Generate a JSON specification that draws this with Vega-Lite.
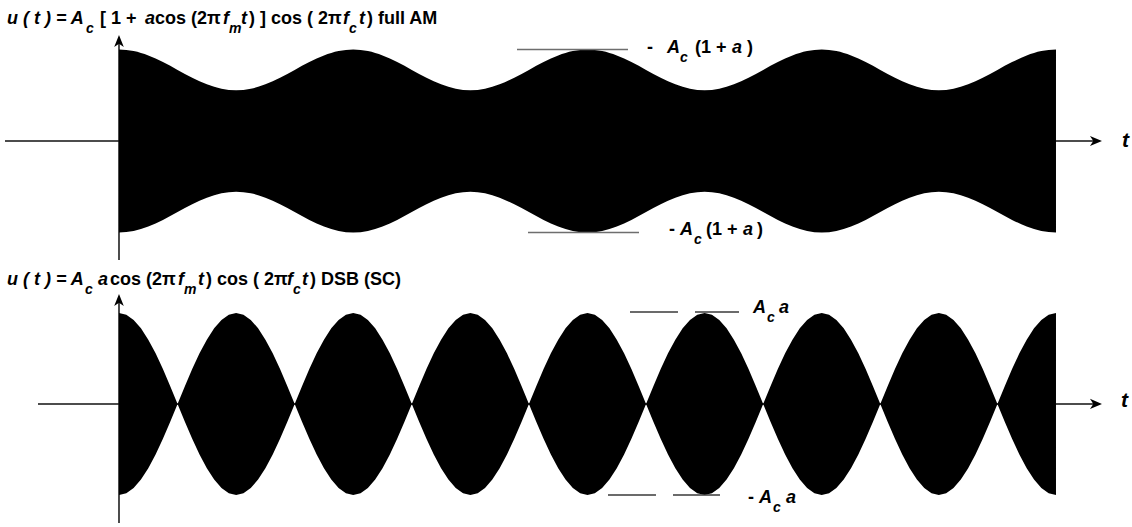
{
  "$schema": "https://vega.github.io/schema/vega-lite/v6.json",
  "padding": 0,
  "spacing": 0,
  "bounds": "flush",
  "config": {"view": {"stroke": null}},
  "datasets": {
    "amEnvelope": [
      {"t":0,"v":1.3,"v2":-1.3},{"t":0.0625,"v":1.278,"v2":-1.278},{"t":0.125,"v":1.215,"v2":-1.215},{"t":0.1875,"v":1.121,"v2":-1.121},
      {"t":0.25,"v":1.01,"v2":-1.01},{"t":0.3125,"v":0.899,"v2":-0.899},{"t":0.375,"v":0.805,"v2":-0.805},{"t":0.4375,"v":0.742,"v2":-0.742},
      {"t":0.5,"v":0.72,"v2":-0.72},{"t":0.5625,"v":0.742,"v2":-0.742},{"t":0.625,"v":0.805,"v2":-0.805},{"t":0.6875,"v":0.899,"v2":-0.899},
      {"t":0.75,"v":1.01,"v2":-1.01},{"t":0.8125,"v":1.121,"v2":-1.121},{"t":0.875,"v":1.215,"v2":-1.215},{"t":0.9375,"v":1.278,"v2":-1.278},
      {"t":1,"v":1.3,"v2":-1.3},{"t":1.0625,"v":1.278,"v2":-1.278},{"t":1.125,"v":1.215,"v2":-1.215},{"t":1.1875,"v":1.121,"v2":-1.121},
      {"t":1.25,"v":1.01,"v2":-1.01},{"t":1.3125,"v":0.899,"v2":-0.899},{"t":1.375,"v":0.805,"v2":-0.805},{"t":1.4375,"v":0.742,"v2":-0.742},
      {"t":1.5,"v":0.72,"v2":-0.72},{"t":1.5625,"v":0.742,"v2":-0.742},{"t":1.625,"v":0.805,"v2":-0.805},{"t":1.6875,"v":0.899,"v2":-0.899},
      {"t":1.75,"v":1.01,"v2":-1.01},{"t":1.8125,"v":1.121,"v2":-1.121},{"t":1.875,"v":1.215,"v2":-1.215},{"t":1.9375,"v":1.278,"v2":-1.278},
      {"t":2,"v":1.3,"v2":-1.3},{"t":2.0625,"v":1.278,"v2":-1.278},{"t":2.125,"v":1.215,"v2":-1.215},{"t":2.1875,"v":1.121,"v2":-1.121},
      {"t":2.25,"v":1.01,"v2":-1.01},{"t":2.3125,"v":0.899,"v2":-0.899},{"t":2.375,"v":0.805,"v2":-0.805},{"t":2.4375,"v":0.742,"v2":-0.742},
      {"t":2.5,"v":0.72,"v2":-0.72},{"t":2.5625,"v":0.742,"v2":-0.742},{"t":2.625,"v":0.805,"v2":-0.805},{"t":2.6875,"v":0.899,"v2":-0.899},
      {"t":2.75,"v":1.01,"v2":-1.01},{"t":2.8125,"v":1.121,"v2":-1.121},{"t":2.875,"v":1.215,"v2":-1.215},{"t":2.9375,"v":1.278,"v2":-1.278},
      {"t":3,"v":1.3,"v2":-1.3},{"t":3.0625,"v":1.278,"v2":-1.278},{"t":3.125,"v":1.215,"v2":-1.215},{"t":3.1875,"v":1.121,"v2":-1.121},
      {"t":3.25,"v":1.01,"v2":-1.01},{"t":3.3125,"v":0.899,"v2":-0.899},{"t":3.375,"v":0.805,"v2":-0.805},{"t":3.4375,"v":0.742,"v2":-0.742},
      {"t":3.5,"v":0.72,"v2":-0.72},{"t":3.5625,"v":0.742,"v2":-0.742},{"t":3.625,"v":0.805,"v2":-0.805},{"t":3.6875,"v":0.899,"v2":-0.899},
      {"t":3.75,"v":1.01,"v2":-1.01},{"t":3.8125,"v":1.121,"v2":-1.121},{"t":3.875,"v":1.215,"v2":-1.215},{"t":3.9375,"v":1.278,"v2":-1.278},
      {"t":4,"v":1.3,"v2":-1.3}
    ],
    "dsbEnvelope": [
      {"t":0,"v":1,"v2":-1},{"t":0.03125,"v":0.981,"v2":-0.981},{"t":0.0625,"v":0.924,"v2":-0.924},{"t":0.09375,"v":0.831,"v2":-0.831},
      {"t":0.125,"v":0.707,"v2":-0.707},{"t":0.15625,"v":0.556,"v2":-0.556},{"t":0.1875,"v":0.383,"v2":-0.383},{"t":0.21875,"v":0.195,"v2":-0.195},
      {"t":0.25,"v":0,"v2":0},{"t":0.28125,"v":0.195,"v2":-0.195},{"t":0.3125,"v":0.383,"v2":-0.383},{"t":0.34375,"v":0.556,"v2":-0.556},
      {"t":0.375,"v":0.707,"v2":-0.707},{"t":0.40625,"v":0.831,"v2":-0.831},{"t":0.4375,"v":0.924,"v2":-0.924},{"t":0.46875,"v":0.981,"v2":-0.981},
      {"t":0.5,"v":1,"v2":-1},{"t":0.53125,"v":0.981,"v2":-0.981},{"t":0.5625,"v":0.924,"v2":-0.924},{"t":0.59375,"v":0.831,"v2":-0.831},
      {"t":0.625,"v":0.707,"v2":-0.707},{"t":0.65625,"v":0.556,"v2":-0.556},{"t":0.6875,"v":0.383,"v2":-0.383},{"t":0.71875,"v":0.195,"v2":-0.195},
      {"t":0.75,"v":0,"v2":0},{"t":0.78125,"v":0.195,"v2":-0.195},{"t":0.8125,"v":0.383,"v2":-0.383},{"t":0.84375,"v":0.556,"v2":-0.556},
      {"t":0.875,"v":0.707,"v2":-0.707},{"t":0.90625,"v":0.831,"v2":-0.831},{"t":0.9375,"v":0.924,"v2":-0.924},{"t":0.96875,"v":0.981,"v2":-0.981},
      {"t":1,"v":1,"v2":-1},{"t":1.03125,"v":0.981,"v2":-0.981},{"t":1.0625,"v":0.924,"v2":-0.924},{"t":1.09375,"v":0.831,"v2":-0.831},
      {"t":1.125,"v":0.707,"v2":-0.707},{"t":1.15625,"v":0.556,"v2":-0.556},{"t":1.1875,"v":0.383,"v2":-0.383},{"t":1.21875,"v":0.195,"v2":-0.195},
      {"t":1.25,"v":0,"v2":0},{"t":1.28125,"v":0.195,"v2":-0.195},{"t":1.3125,"v":0.383,"v2":-0.383},{"t":1.34375,"v":0.556,"v2":-0.556},
      {"t":1.375,"v":0.707,"v2":-0.707},{"t":1.40625,"v":0.831,"v2":-0.831},{"t":1.4375,"v":0.924,"v2":-0.924},{"t":1.46875,"v":0.981,"v2":-0.981},
      {"t":1.5,"v":1,"v2":-1},{"t":1.53125,"v":0.981,"v2":-0.981},{"t":1.5625,"v":0.924,"v2":-0.924},{"t":1.59375,"v":0.831,"v2":-0.831},
      {"t":1.625,"v":0.707,"v2":-0.707},{"t":1.65625,"v":0.556,"v2":-0.556},{"t":1.6875,"v":0.383,"v2":-0.383},{"t":1.71875,"v":0.195,"v2":-0.195},
      {"t":1.75,"v":0,"v2":0},{"t":1.78125,"v":0.195,"v2":-0.195},{"t":1.8125,"v":0.383,"v2":-0.383},{"t":1.84375,"v":0.556,"v2":-0.556},
      {"t":1.875,"v":0.707,"v2":-0.707},{"t":1.90625,"v":0.831,"v2":-0.831},{"t":1.9375,"v":0.924,"v2":-0.924},{"t":1.96875,"v":0.981,"v2":-0.981},
      {"t":2,"v":1,"v2":-1},{"t":2.03125,"v":0.981,"v2":-0.981},{"t":2.0625,"v":0.924,"v2":-0.924},{"t":2.09375,"v":0.831,"v2":-0.831},
      {"t":2.125,"v":0.707,"v2":-0.707},{"t":2.15625,"v":0.556,"v2":-0.556},{"t":2.1875,"v":0.383,"v2":-0.383},{"t":2.21875,"v":0.195,"v2":-0.195},
      {"t":2.25,"v":0,"v2":0},{"t":2.28125,"v":0.195,"v2":-0.195},{"t":2.3125,"v":0.383,"v2":-0.383},{"t":2.34375,"v":0.556,"v2":-0.556},
      {"t":2.375,"v":0.707,"v2":-0.707},{"t":2.40625,"v":0.831,"v2":-0.831},{"t":2.4375,"v":0.924,"v2":-0.924},{"t":2.46875,"v":0.981,"v2":-0.981},
      {"t":2.5,"v":1,"v2":-1},{"t":2.53125,"v":0.981,"v2":-0.981},{"t":2.5625,"v":0.924,"v2":-0.924},{"t":2.59375,"v":0.831,"v2":-0.831},
      {"t":2.625,"v":0.707,"v2":-0.707},{"t":2.65625,"v":0.556,"v2":-0.556},{"t":2.6875,"v":0.383,"v2":-0.383},{"t":2.71875,"v":0.195,"v2":-0.195},
      {"t":2.75,"v":0,"v2":0},{"t":2.78125,"v":0.195,"v2":-0.195},{"t":2.8125,"v":0.383,"v2":-0.383},{"t":2.84375,"v":0.556,"v2":-0.556},
      {"t":2.875,"v":0.707,"v2":-0.707},{"t":2.90625,"v":0.831,"v2":-0.831},{"t":2.9375,"v":0.924,"v2":-0.924},{"t":2.96875,"v":0.981,"v2":-0.981},
      {"t":3,"v":1,"v2":-1},{"t":3.03125,"v":0.981,"v2":-0.981},{"t":3.0625,"v":0.924,"v2":-0.924},{"t":3.09375,"v":0.831,"v2":-0.831},
      {"t":3.125,"v":0.707,"v2":-0.707},{"t":3.15625,"v":0.556,"v2":-0.556},{"t":3.1875,"v":0.383,"v2":-0.383},{"t":3.21875,"v":0.195,"v2":-0.195},
      {"t":3.25,"v":0,"v2":0},{"t":3.28125,"v":0.195,"v2":-0.195},{"t":3.3125,"v":0.383,"v2":-0.383},{"t":3.34375,"v":0.556,"v2":-0.556},
      {"t":3.375,"v":0.707,"v2":-0.707},{"t":3.40625,"v":0.831,"v2":-0.831},{"t":3.4375,"v":0.924,"v2":-0.924},{"t":3.46875,"v":0.981,"v2":-0.981},
      {"t":3.5,"v":1,"v2":-1},{"t":3.53125,"v":0.981,"v2":-0.981},{"t":3.5625,"v":0.924,"v2":-0.924},{"t":3.59375,"v":0.831,"v2":-0.831},
      {"t":3.625,"v":0.707,"v2":-0.707},{"t":3.65625,"v":0.556,"v2":-0.556},{"t":3.6875,"v":0.383,"v2":-0.383},{"t":3.71875,"v":0.195,"v2":-0.195},
      {"t":3.75,"v":0,"v2":0},{"t":3.78125,"v":0.195,"v2":-0.195},{"t":3.8125,"v":0.383,"v2":-0.383},{"t":3.84375,"v":0.556,"v2":-0.556},
      {"t":3.875,"v":0.707,"v2":-0.707},{"t":3.90625,"v":0.831,"v2":-0.831},{"t":3.9375,"v":0.924,"v2":-0.924},{"t":3.96875,"v":0.981,"v2":-0.981},
      {"t":4,"v":1,"v2":-1}
    ],
    "amAxisH": [{"t":-0.4867,"t2":4.1751,"v":0}],
    "amAxisV": [{"t":0,"v":1.45,"v2":-1.69}],
    "amArrowRight": [{"t":4.1708,"v":0}],
    "amArrowUp": [{"t":0,"v":1.42}],
    "amRefs": [{"t":1.6991,"t2":2.1729,"v":1.3},{"t":1.746,"t2":2.2199,"v":-1.3}],
    "amItalic": [
      {"s":"u ( t ) = A","t":-0.4781,"v":1.662},
      {"s":"a","t":0.111,"v":1.662},
      {"s":"f","t":0.444,"v":1.662},
      {"s":"t","t":0.5208,"v":1.662},
      {"s":"f","t":0.9563,"v":1.662},
      {"s":"t","t":1.0245,"v":1.662},
      {"s":"A","t":2.3394,"v":1.25},
      {"s":"a","t":2.6169,"v":1.25},
      {"s":"A","t":2.3949,"v":-1.335},
      {"s":"a","t":2.6638,"v":-1.335}
    ],
    "amSub": [
      {"s":"c","t":-0.1409,"v":1.534},
      {"s":"m","t":0.4696,"v":1.534},
      {"s":"c","t":0.9819,"v":1.534},
      {"s":"c","t":2.3949,"v":1.122},
      {"s":"c","t":2.4546,"v":-1.463}
    ],
    "amUpright": [
      {"s":"[ 1 +","t":-0.0811,"v":1.662},
      {"s":"cos (2π","t":0.1537,"v":1.662},
      {"s":") ] cos ( 2π","t":0.555,"v":1.662},
      {"s":") full AM","t":1.0587,"v":1.662},
      {"s":"-","t":2.254,"v":1.25},
      {"s":"(1 +","t":2.4589,"v":1.25},
      {"s":")","t":2.6809,"v":1.25},
      {"s":"-","t":2.3479,"v":-1.335},
      {"s":"(1 +","t":2.5059,"v":-1.335},
      {"s":")","t":2.7236,"v":-1.335}
    ],
    "amTimeLabel": [{"s":"t","t":4.2818,"v":-0.085}],
    "dsbAxisH": [{"t":-0.3458,"t2":4.1751,"v":0}],
    "dsbAxisV": [{"t":0,"v":1.15,"v2":-1.308}],
    "dsbArrowRight": [{"t":4.1708,"v":0}],
    "dsbArrowUp": [{"t":0,"v":1.143}],
    "dsbRefs": [
      {"t":2.1814,"t2":2.3863,"v":1.011},{"t":2.4589,"t2":2.6468,"v":1.011},
      {"t":2.0875,"t2":2.2924,"v":-1.0},{"t":2.365,"t2":2.5656,"v":-1.0}
    ],
    "dsbItalic": [
      {"s":"u ( t ) = A","t":-0.4781,"v":1.308},
      {"s":"a","t":-0.0896,"v":1.308},
      {"s":"f","t":0.2518,"v":1.308},
      {"s":"t","t":0.3373,"v":1.308},
      {"s":"f","t":0.7172,"v":1.308},
      {"s":"t","t":0.7812,"v":1.308},
      {"s":"A","t":2.7065,"v":1.0},
      {"s":"a","t":2.8175,"v":1.0},
      {"s":"A","t":2.7321,"v":-1.088},
      {"s":"a","t":2.8474,"v":-1.088}
    ],
    "dsbSub": [
      {"s":"c","t":-0.1451,"v":1.209},
      {"s":"m","t":0.2774,"v":1.209},
      {"s":"c","t":0.7428,"v":1.209},
      {"s":"c","t":2.7663,"v":0.901},
      {"s":"c","t":2.7919,"v":-1.187}
    ],
    "dsbUpright": [
      {"s":"cos (2π","t":-0.0384,"v":1.308},
      {"s":") cos ( 2π","t":0.3714,"v":1.308},
      {"s":") DSB (SC)","t":0.8155,"v":1.308},
      {"s":"-","t":2.6852,"v":-1.088}
    ],
    "dsbTimeLabel": [{"s":"t","t":4.2775,"v":-0.033}]
  },
  "vconcat": [
    {
      "width": 1132,
      "height": 263,
      "encoding": {
        "x": {"field":"t","type":"quantitative","scale":{"domain":[-0.508,4.3245],"nice":false,"zero":false},"axis":null},
        "y": {"field":"v","type":"quantitative","scale":{"domain":[-1.733,2.003],"nice":false,"zero":false},"axis":null}
      },
      "layer": [
        {"data":{"name":"amAxisH"},"mark":{"type":"rule","color":"#111","strokeWidth":1.5},"encoding":{"x2":{"field":"t2"}}},
        {"data":{"name":"amAxisV"},"mark":{"type":"rule","color":"#111","strokeWidth":1.5},"encoding":{"y2":{"field":"v2"}}},
        {"data":{"name":"amEnvelope"},"mark":{"type":"area","color":"#000","interpolate":"monotone"},"encoding":{"y2":{"field":"v2"}}},
        {"data":{"name":"amRefs"},"mark":{"type":"rule","color":"#6e6e6e","strokeWidth":1.5},"encoding":{"x2":{"field":"t2"}}},
        {"data":{"name":"amArrowRight"},"mark":{"type":"point","shape":"M-1,-0.85L1,0L-1,0.85L-0.45,0Z","filled":true,"size":144,"color":"#000","opacity":1},"encoding":{}},
        {"data":{"name":"amArrowUp"},"mark":{"type":"point","shape":"M-0.8,1L0,-1L0.8,1L0,0.45Z","filled":true,"size":144,"color":"#000","opacity":1},"encoding":{}},
        {"data":{"name":"amItalic"},"mark":{"type":"text","font":"Liberation Sans","fontSize":18,"fontWeight":"bold","fontStyle":"italic","align":"left","baseline":"alphabetic","color":"#000"},"encoding":{"text":{"field":"s"}}},
        {"data":{"name":"amSub"},"mark":{"type":"text","font":"Liberation Sans","fontSize":14,"fontWeight":"bold","fontStyle":"italic","align":"left","baseline":"alphabetic","color":"#000"},"encoding":{"text":{"field":"s"}}},
        {"data":{"name":"amUpright"},"mark":{"type":"text","font":"Liberation Sans","fontSize":18,"fontWeight":"bold","align":"left","baseline":"alphabetic","color":"#000"},"encoding":{"text":{"field":"s"}}},
        {"data":{"name":"amTimeLabel"},"mark":{"type":"text","font":"Liberation Sans","fontSize":21,"fontWeight":"bold","fontStyle":"italic","align":"left","baseline":"alphabetic","color":"#000"},"encoding":{"text":{"field":"s"}}}
      ]
    },
    {
      "width": 1132,
      "height": 264,
      "encoding": {
        "x": {"field":"t","type":"quantitative","scale":{"domain":[-0.508,4.3245],"nice":false,"zero":false},"axis":null},
        "y": {"field":"v","type":"quantitative","scale":{"domain":[-1.352,1.549],"nice":false,"zero":false},"axis":null}
      },
      "layer": [
        {"data":{"name":"dsbAxisH"},"mark":{"type":"rule","color":"#111","strokeWidth":1.5},"encoding":{"x2":{"field":"t2"}}},
        {"data":{"name":"dsbAxisV"},"mark":{"type":"rule","color":"#111","strokeWidth":1.5},"encoding":{"y2":{"field":"v2"}}},
        {"data":{"name":"dsbEnvelope"},"mark":{"type":"area","color":"#000","interpolate":"linear"},"encoding":{"y2":{"field":"v2"}}},
        {"data":{"name":"dsbRefs"},"mark":{"type":"rule","color":"#3a3a3a","strokeWidth":1.5},"encoding":{"x2":{"field":"t2"}}},
        {"data":{"name":"dsbArrowRight"},"mark":{"type":"point","shape":"M-1,-0.85L1,0L-1,0.85L-0.45,0Z","filled":true,"size":144,"color":"#000","opacity":1},"encoding":{}},
        {"data":{"name":"dsbArrowUp"},"mark":{"type":"point","shape":"M-0.8,1L0,-1L0.8,1L0,0.45Z","filled":true,"size":144,"color":"#000","opacity":1},"encoding":{}},
        {"data":{"name":"dsbItalic"},"mark":{"type":"text","font":"Liberation Sans","fontSize":18,"fontWeight":"bold","fontStyle":"italic","align":"left","baseline":"alphabetic","color":"#000"},"encoding":{"text":{"field":"s"}}},
        {"data":{"name":"dsbSub"},"mark":{"type":"text","font":"Liberation Sans","fontSize":14,"fontWeight":"bold","fontStyle":"italic","align":"left","baseline":"alphabetic","color":"#000"},"encoding":{"text":{"field":"s"}}},
        {"data":{"name":"dsbUpright"},"mark":{"type":"text","font":"Liberation Sans","fontSize":18,"fontWeight":"bold","align":"left","baseline":"alphabetic","color":"#000"},"encoding":{"text":{"field":"s"}}},
        {"data":{"name":"dsbTimeLabel"},"mark":{"type":"text","font":"Liberation Sans","fontSize":21,"fontWeight":"bold","fontStyle":"italic","align":"left","baseline":"alphabetic","color":"#000"},"encoding":{"text":{"field":"s"}}}
      ]
    }
  ]
}
